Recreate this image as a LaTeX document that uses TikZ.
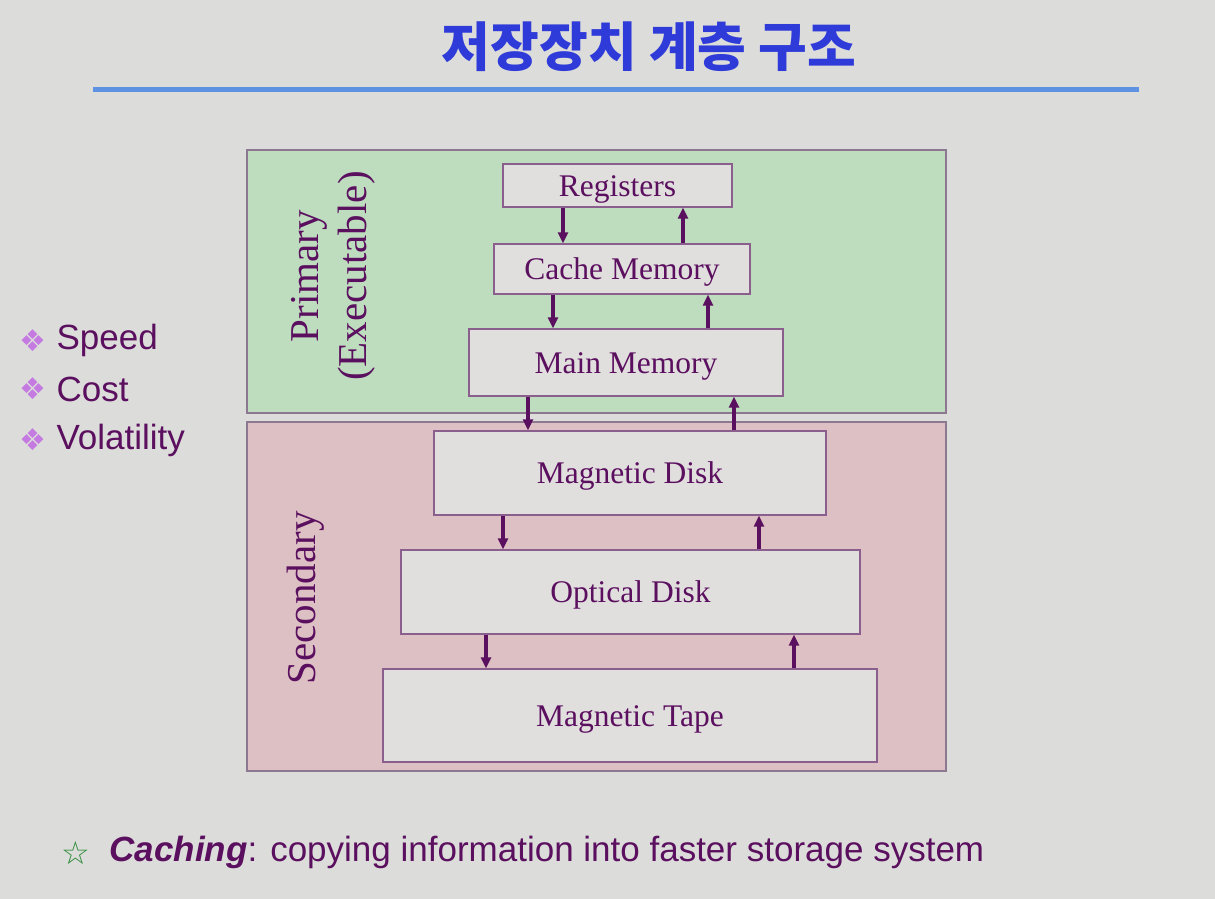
\documentclass[tikz,border=0pt]{standalone}
\usepackage{fontspec}
\usepackage{xcolor}
\usepackage{tikz}
\usetikzlibrary{arrows.meta,positioning}
\setmainfont{Liberation Serif}
\setsansfont{Liberation Sans}
\newfontfamily\cjk{Noto Sans CJK KR}
\newfontfamily\symfont{DejaVu Sans}
\definecolor{slidebg}{HTML}{DCDCDA}
\definecolor{titleblue}{HTML}{2F3BD9}
\definecolor{rule}{HTML}{5E93E3}
\definecolor{primfill}{HTML}{BEDDBF}
\definecolor{secfill}{HTML}{DDC0C3}
\definecolor{tierframe}{HTML}{8C7890}
\definecolor{boxfill}{HTML}{E1DEDE}
\definecolor{boxline}{HTML}{8A5F8E}
\definecolor{ink}{HTML}{5B0F5F}
\definecolor{bulletpink}{HTML}{C47AE0}
\definecolor{stargreen}{HTML}{2E8B3A}
\tikzset{
  tier/.style={
    draw=tierframe,
    line width=1.2pt
  },
  level/.style={
    draw=boxline,
    line width=1.3pt,
    fill=boxfill,
    text=ink,
    font=\fontsize{31.5}{36}\selectfont,
    text height=21pt,
    text depth=0pt,
    inner sep=0pt
  },
  tierlabel/.style={
    rotate=90,
    align=center,
    text=ink,
    font=\fontsize{41}{48}\selectfont
  },
  bullet/.style={
    anchor=west,
    text=ink,
    font=\sffamily\fontsize{35}{40}\selectfont
  },
  bulletmark/.style={
    text=bulletpink,
    font=\symfont\fontsize{30}{34}\selectfont
  },
  every edge/.style={draw=ink, -{Triangle[length=11pt,width=10pt]}, line width=3.4pt}
}

\begin{document}
\begin{tikzpicture}[x=1pt,y=-1pt]
  \fill[slidebg] (0,0) rectangle (1215,899);
  \useasboundingbox (0,0) rectangle (1215,899);

  % title and rule
  \node[text=titleblue, font=\cjk\bfseries\fontsize{53}{60}\selectfont] (title) at (649,47) {저장장치 계층 구조};
  \draw[rule, line width=5pt] (93,89) -- (1139,89);

  % the two tiers
  \draw[tier, fill=primfill] (247,150) rectangle (946,413);
  \draw[tier, fill=secfill] (247,422) rectangle (946,771);
  \node[tierlabel] (prim) at (333,276) {Primary\\(Executable)};
  \node[tierlabel] (sec) at (306,598) {Secondary};

  % storage levels
  \node[level, minimum width=229pt, minimum height=43pt] (reg) at (617.5,185.5) {Registers};
  \node[level, minimum width=256pt, minimum height=50pt] (cache) at (622,269) {Cache Memory};
  \node[level, minimum width=314pt, minimum height=67pt] (main) at (626,362.5) {Main Memory};
  \node[level, minimum width=392pt, minimum height=84pt] (mdisk) at (630,473) {Magnetic Disk};
  \node[level, minimum width=459pt, minimum height=84pt] (odisk) at (630.5,592) {Optical Disk};
  \node[level, minimum width=494pt, minimum height=93pt] (tape) at (630,715.5) {Magnetic Tape};

  \path (reg.south -| 563,0) edge (cache.north -| 563,0)
        (cache.north -| 683,0) edge (reg.south -| 683,0)
        (cache.south -| 553,0) edge (main.north -| 553,0)
        (main.north -| 708,0) edge (cache.south -| 708,0)
        (main.south -| 528,0) edge (mdisk.north -| 528,0)
        (mdisk.north -| 734,0) edge (main.south -| 734,0)
        (mdisk.south -| 503,0) edge (odisk.north -| 503,0)
        (odisk.north -| 759,0) edge (mdisk.south -| 759,0)
        (odisk.south -| 486,0) edge (tape.north -| 486,0)
        (tape.north -| 794,0) edge (odisk.south -| 794,0);

  % criteria on the left
  \node[bulletmark] (m1) at (33,341) {❖};
  \node[bulletmark] (m2) at (33,389) {❖};
  \node[bulletmark] (m3) at (33,440) {❖};
  \node[bullet] (speed) at (53,340) {Speed};
  \node[bullet] (cost) at (53,389) {Cost};
  \node[bullet] (vol) at (53,440) {Volatility};

  % caching note
  \node[bulletmark, text=stargreen, font=\symfont\fontsize{32}{36}\selectfont] (star) at (76,853) {☆};
  \node[bullet] (note) at (106,852) {\textbf{\textit{Caching}}: copying information into faster storage system};
\end{tikzpicture}
\end{document}
